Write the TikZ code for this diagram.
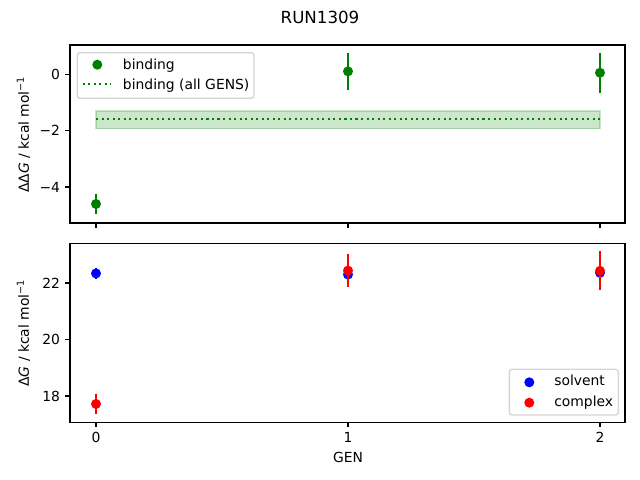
\documentclass[tikz,border=0pt]{standalone}
\usepackage{fontspec}
\setmainfont{DejaVu Sans}
\definecolor{mplgreen}{RGB}{0,128,0}
\definecolor{mplblue}{RGB}{0,0,255}
\definecolor{mplred}{RGB}{255,0,0}
\begin{document}
\begin{tikzpicture}[x=0.72pt,y=-0.72pt,font=\fontsize{10}{12}\selectfont,
		frame/.style={draw,line width=0.8pt},
		tick/.style={line width=0.8pt},
		dot/.style={circle,fill=#1,inner sep=0pt,minimum size=7.2pt},
		bar/.style={draw=#1,line width=1.5pt},
		legendbox/.style={draw=black!20,fill=white,fill opacity=0.8,draw opacity=0.8,rounded corners=2pt,line width=1pt},
		ticklabel/.style={inner sep=0pt}]
		\useasboundingbox (0,0) rectangle (640,480);
		
		\node (title) at (320,17) {\fontsize{12}{14}\selectfont RUN1309};
		
		% top panel: binding
		\draw[frame] (70,45) rectangle (625,223);
		\foreach \y/\l in {74.7/0,130.7/−2,187/−4} {
			\draw[tick] (70,\y) -- (65.1,\y);
			\node[ticklabel,anchor=east] at (60.3,\y) {\l};
		}
		\node[rotate=90,anchor=base] (ddglabel) at (29,134.5) {ΔΔ\textit{G} / kcal mol\textsuperscript{−1}};
		\begin{scope}[shift={(96,74.7)},x=181.44pt,y=20.232pt]
			\path[draw=mplgreen,fill=mplgreen,opacity=0.2,line width=1pt] (0,-1.92) rectangle (2,-1.29);
			\draw[mplgreen,line width=1.5pt,dash pattern=on 1.5pt off 2.475pt] (0,-1.58) -- (2,-1.58);
			\foreach \g/\v/\e in {0/-4.6/0.37,1/0.12/0.66,2/0.07/0.71} {
				\coordinate (btop\g) at (\g,{\v+\e});
				\coordinate (bbot\g) at (\g,{\v-\e});
				\draw[bar=mplgreen] (btop\g) -- (bbot\g);
				\node[dot=mplgreen] (bind\g) at (\g,\v) {};
			}
		\end{scope}
		
		% top legend
		\draw[legendbox] (77.3,52.7) rectangle (254,98.3);
		\node[dot=mplgreen] (bindkey) at (97.3,64.7) {};
		\node[anchor=base west,inner sep=0pt] (bindtext) at (122.7,69) {binding};
		\coordinate (allkeyl) at (82.7,84.3);
		\coordinate (allkeyr) at (110.7,84.3);
		\draw[mplgreen,line width=1.5pt,dash pattern=on 1.5pt off 2.475pt] (allkeyl) -- (allkeyr);
		\node[anchor=base west,inner sep=0pt] (alltext) at (122.7,89) {binding (all GENS)};
		
		% bottom panel: solvent and complex
		\draw[frame] (70,243.3) rectangle (625,422.3);
		\foreach \y/\l in {283/22,339.5/20,396/18} {
			\draw[tick] (70,\y) -- (65.1,\y);
			\node[ticklabel,anchor=east] at (60.3,\y) {\l};
		}
		\node[rotate=90,anchor=base] (dglabel) at (29,333) {Δ\textit{G} / kcal mol\textsuperscript{−1}};
		\begin{scope}[shift={(96,904.5)},x=181.44pt,y=20.34pt]
			\foreach \g/\v/\e in {0/22.34/0.2,1/22.3/0.3,2/22.36/0.3} {
				\coordinate (stop\g) at (\g,{\v+\e});
				\coordinate (sbot\g) at (\g,{\v-\e});
				\draw[bar=mplblue] (stop\g) -- (sbot\g);
				\node[dot=mplblue] (solv\g) at (\g,\v) {};
			}
			\foreach \g/\v/\e in {0/17.72/0.34,1/22.44/0.58,2/22.43/0.69} {
				\coordinate (ctop\g) at (\g,{\v+\e});
				\coordinate (cbot\g) at (\g,{\v-\e});
				\draw[bar=mplred] (ctop\g) -- (cbot\g);
				\node[dot=mplred] (comp\g) at (\g,\v) {};
			}
		\end{scope}
		
		% x ticks
		\foreach \x/\l in {96/0,348/1,600/2} {
			\draw[tick] (\x,223) -- (\x,227.9);
			\draw[tick] (\x,422.3) -- (\x,427.2);
			\node[anchor=base,inner sep=0pt] at (\x,442) {\l};
		}
		\node[anchor=base,inner sep=0pt] (genlabel) at (348,462.5) {GEN};
		
		% bottom legend
		\draw[legendbox] (509.3,369.3) rectangle (618.3,415);
		\node[dot=mplblue] (solvkey) at (529.3,382.3) {};
		\node[anchor=base west,inner sep=0pt] (solvtext) at (554,385.5) {solvent};
		\node[dot=mplred] (compkey) at (529.3,402.7) {};
		\node[anchor=base west,inner sep=0pt] (comptext) at (554,406) {complex};
\end{tikzpicture}
\end{document}
